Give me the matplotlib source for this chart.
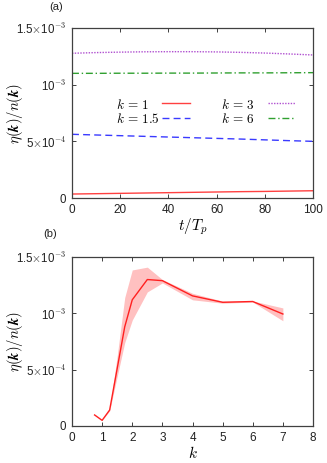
import numpy as np
import matplotlib
matplotlib.use("Agg")
import matplotlib.pyplot as plt
from matplotlib.ticker import FixedLocator, FixedFormatter
from matplotlib.lines import Line2D

plt.rcParams['font.family'] = ['Liberation Sans', 'DejaVu Sans']
plt.rcParams['mathtext.fontset'] = 'cm'

# ---- data: panel (a) ----
t = [0, 10, 20, 30, 40, 50, 60, 70, 80, 90, 100]
eta_k1 = [0.035, 0.038, 0.041, 0.044, 0.047, 0.050, 0.053, 0.056, 0.058, 0.061, 0.064]
eta_k15 = [0.562, 0.556, 0.550, 0.544, 0.538, 0.532, 0.526, 0.520, 0.513, 0.506, 0.500]
eta_k3 = [1.277, 1.283, 1.287, 1.290, 1.291, 1.291, 1.289, 1.285, 1.279, 1.271, 1.262]
eta_k6 = [1.100, 1.100, 1.101, 1.101, 1.102, 1.102, 1.103, 1.104, 1.104, 1.105, 1.106]
series_labels = [r'$k\,=\,1$', r'$k\,=\,1.5$', r'$k\,=\,3$', r'$k\,=\,6$']

# ---- data: panel (b) ----
k_vals = [0.75, 1.0, 1.25, 1.5, 1.75, 2.0, 2.5, 3.0, 4.0, 5.0, 6.0, 7.0]
eta_mean = [0.098, 0.050, 0.142, 0.51, 0.88, 1.12, 1.30, 1.29, 1.155, 1.098, 1.105, 0.994]
eta_upper = [0.098, 0.050, 0.150, 0.62, 1.14, 1.385, 1.41, 1.30, 1.178, 1.108, 1.110, 1.048]
eta_lower = [0.098, 0.050, 0.135, 0.44, 0.74, 0.94, 1.19, 1.27, 1.120, 1.090, 1.100, 0.934]

ytick_vals = [0, 0.5e-3, 1.0e-3, 1.5e-3]
ytick_labels = ['0', r'5$\times$10$^{-4}$', r'10$^{-3}$', r'1.5$\times$10$^{-3}$']

scale = 1e-3

fig = plt.figure(figsize=(3.27, 4.63), dpi=100)
W, H = 327, 463
ax1 = fig.add_axes([72 / W, 1 - 198 / H, (313 - 72) / W, (198 - 28) / H])
ax2 = fig.add_axes([72 / W, 1 - 426 / H, (313 - 72) / W, (426 - 257) / H])

spine_col = '#404040'
for ax in (ax1, ax2):
    for s in ax.spines.values():
        s.set_color(spine_col)
        s.set_linewidth(0.9)
    ax.tick_params(direction='in', top=True, right=True,
                   length=3, width=0.7, color=spine_col, labelcolor='#222222', pad=4)
    ax.tick_params(axis='x', labelsize=8.5)
    ax.tick_params(axis='y', labelsize=8.3, pad=4)
    ax.set_ylim(0, 1.5e-3)
    ax.yaxis.set_major_locator(FixedLocator(ytick_vals))
    ax.yaxis.set_major_formatter(FixedFormatter(ytick_labels))
    ax.set_ylabel(r'$\eta(\boldsymbol{k})/n(\boldsymbol{k})$', fontsize=10.5)
    ax.yaxis.set_label_coords(-0.195, 0.5)

styles = [
    dict(color='#ff4040', lw=1.0, ls='-'),
    dict(color='#3a3aff', lw=1.0, ls=(0, (5, 3))),
    dict(color='#b050d0', lw=1.0, ls=(0, (1, 1))),
    dict(color='#30a030', lw=1.0, ls=(0, (5, 2, 1, 2))),
]
series = [eta_k1, eta_k15, eta_k3, eta_k6]
for ys, st in zip(series, styles):
    ax1.plot(t, np.array(ys) * scale, **st)
ax1.set_xlim(0, 100)
ax1.set_xticks([0, 20, 40, 60, 80, 100])
ax1.set_xlabel(r'$t/T_p$', fontsize=11, labelpad=1)

# legend (gnuplot style: text left, sample right), in axes coordinates
def ax_x(px):
    return (px - 72) / 241.0

def ax_y(py):
    return (198 - py) / 170.0

leg_rows = [103, 117.5]
leg_text_x = [116, 221]
leg_line_x = [(162, 190), (268, 295)]
for i, (lab, st) in enumerate(zip(series_labels, styles)):
    col = i // 2
    row = i % 2
    ax1.text(ax_x(leg_text_x[col]), ax_y(leg_rows[row]), lab, transform=ax1.transAxes,
             fontsize=9.5, ha='left', va='center_baseline')
    x0, x1 = leg_line_x[col]
    ax1.add_line(Line2D([ax_x(x0), ax_x(x1)], [ax_y(leg_rows[row])] * 2,
                        transform=ax1.transAxes, **st))

# panel (b)
kk = np.array(k_vals)
ax2.fill_between(kk, np.array(eta_lower) * scale, np.array(eta_upper) * scale,
                 color='#ffc0c0', lw=0)
ax2.plot(kk, np.array(eta_mean) * scale, color='#ff2020', lw=1.0)
ax2.set_xlim(0, 8)
ax2.set_xticks(range(0, 9))
ax2.set_xlabel(r'$k$', fontsize=11, labelpad=1)

fig.text(49 / W, 1 - 7 / H, '(a)', fontsize=8, ha='left', va='center', color='#222222')
fig.text(43 / W, 1 - 234 / H, '(b)', fontsize=8, ha='left', va='center', color='#222222')

fig.savefig('out.png', dpi=100)
